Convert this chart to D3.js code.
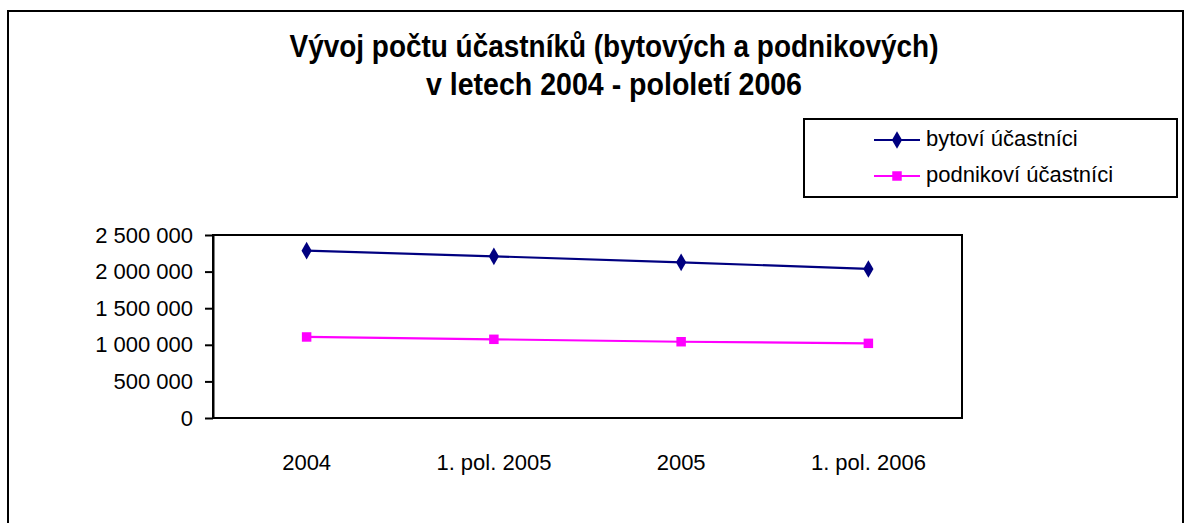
<!DOCTYPE html>
<html>
<head>
<meta charset="utf-8">
<script src="https://cdn.jsdelivr.net/npm/d3@7"></script>
<style>
  body { margin: 0; background: #fff; }
  svg { display: block; font-family: "Liberation Sans", Arial, sans-serif; }
</style>
</head>
<body>
<div id="chart"></div>
<script>
// data
var categories = ["2004", "1. pol. 2005", "2005", "1. pol. 2006"];
var bytovi = [2286000, 2209000, 2127000, 2036000];
var podnikovi = [1107000, 1075000, 1042000, 1020000];
var yTicks = [0, 500000, 1000000, 1500000, 2000000, 2500000];
var seriesNames = ["bytoví účastníci", "podnikoví účastníci"];
var titleLines = ["Vývoj počtu účastníků (bytových a podnikových)", "v letech 2004 - pololetí 2006"];
var titleWidths = [649, 376];

var width = 1190, height = 523;

var svg = d3.select("#chart")
  .append("svg")
  .attr("width", width)
  .attr("height", height);

// outer chart frame
svg.append("path")
  .attr("d", "M8,530 L8,11 L1183,11 L1183,530")
  .attr("fill", "none")
  .attr("stroke", "#000")
  .attr("stroke-width", 2);

// title (narrow bold look, squeezed to the width in the picture)
svg.selectAll("text.title")
  .data(titleLines)
  .enter()
  .append("text")
  .attr("class", "title")
  .attr("x", 614)
  .attr("y", function(d, i) { return 57 + i * 38; })
  .attr("text-anchor", "middle")
  .attr("textLength", function(d, i) { return titleWidths[i]; })
  .attr("lengthAdjust", "spacingAndGlyphs")
  .style("font-weight", "bold")
  .style("font-size", "31px")
  .text(function(d) { return d; });

// plot area
var plot = { left: 213, top: 235, right: 962, bottom: 418 };

var x = d3.scaleBand()
  .domain(categories)
  .range([plot.left, plot.right]);

var y = d3.scaleLinear()
  .domain([0, 2500000])
  .range([plot.bottom, plot.top]);

svg.append("rect")
  .attr("x", plot.left)
  .attr("y", plot.top)
  .attr("width", plot.right - plot.left)
  .attr("height", plot.bottom - plot.top)
  .attr("fill", "#fff")
  .attr("stroke", "#000")
  .attr("stroke-width", 2);

var fmt = function(v) { return d3.format(",")(v).replace(/,/g, " "); };

var yAxis = d3.axisLeft(y)
  .tickValues(yTicks)
  .tickFormat(fmt)
  .tickSizeInner(8)
  .tickSizeOuter(0)
  .tickPadding(12);

var gy = svg.append("g")
  .attr("transform", "translate(" + plot.left + ",0)")
  .call(yAxis);
gy.select(".domain").attr("stroke-width", 2);
gy.selectAll(".tick line").attr("stroke-width", 2);
gy.selectAll("text")
  .attr("fill", "#000")
  .style("font-size", "22px");

var xAxis = d3.axisBottom(x)
  .tickSize(0)
  .tickPadding(36);

var gx = svg.append("g")
  .attr("transform", "translate(0," + plot.bottom + ")")
  .call(xAxis);
gx.select(".domain").remove();
gx.selectAll("text")
  .attr("fill", "#000")
  .style("font-size", "22px");

var cx = function(d, i) { return x(categories[i]) + x.bandwidth() / 2; };

var line = d3.line()
  .x(function(d, i) { return cx(d, i); })
  .y(function(d) { return y(d); });

var series = [
  { name: seriesNames[0], values: bytovi, color: "#000080", symbol: d3.symbolDiamond, size: 90 },
  { name: seriesNames[1], values: podnikovi, color: "#ff00ff", symbol: d3.symbolSquare, size: 90 }
];

series.forEach(function(s) {
  svg.append("path")
    .datum(s.values)
    .attr("d", line)
    .attr("fill", "none")
    .attr("stroke", s.color)
    .attr("stroke-width", 2.2);

  svg.selectAll(null)
    .data(s.values)
    .enter()
    .append("path")
    .attr("d", d3.symbol().type(s.symbol).size(s.size))
    .attr("transform", function(d, i) { return "translate(" + cx(d, i) + "," + y(d) + ")"; })
    .attr("fill", s.color);
});

// legend
var legend = svg.append("g");
legend.append("rect")
  .attr("x", 804)
  .attr("y", 119)
  .attr("width", 373)
  .attr("height", 78)
  .attr("fill", "#fff")
  .attr("stroke", "#000")
  .attr("stroke-width", 2);

series.forEach(function(s, i) {
  var ly = 140 + i * 36;
  legend.append("line")
    .attr("x1", 874).attr("x2", 920)
    .attr("y1", ly).attr("y2", ly)
    .attr("stroke", s.color)
    .attr("stroke-width", 2);
  legend.append("path")
    .attr("d", d3.symbol().type(s.symbol).size(s.size))
    .attr("transform", "translate(897," + ly + ")")
    .attr("fill", s.color);
  legend.append("text")
    .attr("x", 926)
    .attr("y", ly + 6)
    .style("font-size", "22px")
    .text(s.name);
});
</script>
</body>
</html>
